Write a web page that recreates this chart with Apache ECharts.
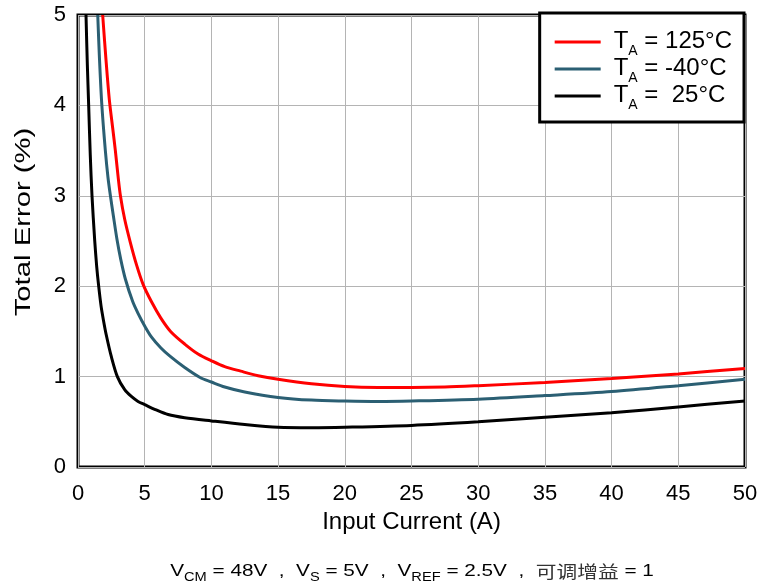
<!DOCTYPE html>
<html>
<head>
<meta charset="utf-8">
<script src="https://cdn.jsdelivr.net/npm/echarts@6/dist/echarts.min.js"></script>
<style>html,body{margin:0;padding:0;background:#fff;}#c{width:761px;height:586px;}</style>
</head>
<body>
<div id="c"></div>
<script>
var xTicks = [0, 5, 10, 15, 20, 25, 30, 35, 40, 45, 50];
var yTicks = [0, 1, 2, 3, 4, 5];

var redX   = [1.85, 2.1, 2.35, 2.6, 2.8, 3.0, 3.18, 3.5, 3.93, 4.4, 4.88, 5.5, 6.2, 6.94, 8, 9, 10, 11, 12.2, 13.5, 15, 17.5, 20, 22.5, 25, 27.5, 30, 35, 40, 45, 50];
var redY   = [5.0, 4.5, 4.06, 3.75, 3.5, 3.22, 3.0, 2.74, 2.48, 2.23, 2.02, 1.83, 1.65, 1.50, 1.36, 1.25, 1.175, 1.11, 1.06, 1.01, 0.97, 0.92, 0.89, 0.88, 0.88, 0.885, 0.90, 0.935, 0.98, 1.03, 1.09];

var blueX  = [1.48, 1.6, 1.78, 2.05, 2.25, 2.43, 2.65, 2.93, 3.2, 3.55, 4.1, 4.5, 5.0, 5.5, 6.2, 6.94, 8, 9.15, 10, 11, 12.5, 15, 17.5, 20, 22.5, 25, 30, 35, 40, 45, 50];
var blueY  = [5.0, 4.55, 4.02, 3.5, 3.2, 3.0, 2.78, 2.51, 2.3, 2.08, 1.83, 1.7, 1.56, 1.44, 1.32, 1.22, 1.1, 0.99, 0.94, 0.885, 0.83, 0.77, 0.74, 0.73, 0.725, 0.73, 0.75, 0.79, 0.835, 0.90, 0.97];

var blackX = [0.6, 0.7, 0.8, 0.92, 1.05, 1.25, 1.4, 1.55, 1.73, 1.9, 2.12, 2.5, 2.95, 3.5, 4.0, 4.5, 5, 5.8, 6.75, 8, 10, 12.5, 15, 17.5, 20, 25, 30, 35, 40, 45, 50];
var blackY = [5.0, 4.45, 4.0, 3.45, 3.0, 2.51, 2.22, 2.0, 1.78, 1.63, 1.46, 1.22, 1.0, 0.855, 0.78, 0.725, 0.69, 0.635, 0.58, 0.545, 0.51, 0.47, 0.44, 0.435, 0.44, 0.46, 0.50, 0.55, 0.60, 0.665, 0.73];

function pairs(xs, ys) { return xs.map(function (x, i) { return [x, ys[i]]; }); }

var legendLabels = {
  'r': '{g|}{n|T}{s|A}{n| = 125°C}',
  'b': '{g|}{n|T}{s|A}{n| = -40°C}',
  'k': '{g|}{n|T}{s|A}{n| =  25°C}'
};

var font = 'Liberation Sans, Arial, sans-serif';
var chart = echarts.init(document.getElementById('c'), null, {renderer: 'canvas'});
chart.setOption({
  animation: false,
  backgroundColor: '#fff',
  textStyle: {fontFamily: font},
  grid: {left: 78, right: 16, top: 15, bottom: 119, show: true, borderColor: '#000', borderWidth: 3},
  legend: {
    orient: 'vertical', right: 17, top: 13,
    backgroundColor: '#fff', borderColor: '#000', borderWidth: 3,
    padding: [16, 12, 10, 15],
    itemGap: -2, itemWidth: 46, itemHeight: 3, icon: 'rect',
    data: ['r', 'b', 'k'],
    formatter: function (n) { return legendLabels[n]; },
    textStyle: {
      rich: {
        g: {width: 8},
        n: {fontSize: 24, fontFamily: font, color: '#000', lineHeight: 22, verticalAlign: 'bottom'},
        s: {fontSize: 14, fontFamily: font, color: '#000', lineHeight: 22, verticalAlign: 'bottom', padding: [0, 0, -5, 0]}
      }
    }
  },
  graphic: [
    {
      type: 'text', x: 24, y: 222, rotation: Math.PI / 2, scaleX: 1.33,
      style: {text: 'Total Error (%)', font: '22px Liberation Sans, Arial, sans-serif', fill: '#000',
              align: 'center', verticalAlign: 'middle'}
    },
    {
      type: 'text', x: 412, y: 569, scaleX: 1.22,
      style: {
        text: '{n|V}{s|CM}{n| = 48V  ,  V}{s|S}{n| = 5V  ,  V}{s|REF}{n| = 2.5V  ,  }{c|可调增益}{n| = 1}',
        align: 'center', verticalAlign: 'middle', fill: '#000',
        rich: {
          n: {fontSize: 17, fontFamily: font, fontWeight: 'normal', fill: '#000', lineHeight: 22, verticalAlign: 'bottom'},
          s: {fontSize: 12, fontFamily: font, fontWeight: 'normal', fill: '#000', lineHeight: 22, verticalAlign: 'bottom', padding: [0, 0, -4, 0]},
          c: {fontSize: 17, fontFamily: 'Noto Sans CJK SC', fontWeight: 'normal', fill: '#333', lineHeight: 22, verticalAlign: 'bottom'}
        }
      }
    }
  ],
  xAxis: {
    type: 'value', min: 0, max: 50, interval: 5,
    name: 'Input Current (A)', nameLocation: 'middle', nameGap: 41,
    nameTextStyle: {fontSize: 24, color: '#000', fontFamily: font},
    axisLine: {show: false}, axisTick: {show: false},
    axisLabel: {fontSize: 22, color: '#000', margin: 16, fontFamily: font,
      formatter: function (v) { return xTicks.indexOf(v) >= 0 ? String(v) : ''; }},
    splitLine: {show: true, lineStyle: {color: '#b4b4b4', width: 1}}
  },
  yAxis: {
    type: 'value', min: 0, max: 5, interval: 1,
    axisLine: {show: false}, axisTick: {show: false},
    axisLabel: {fontSize: 22, color: '#000', margin: 12, fontFamily: font,
      formatter: function (v) { return yTicks.indexOf(v) >= 0 ? String(v) : ''; }},
    splitLine: {show: true, lineStyle: {color: '#b4b4b4', width: 1}}
  },
  series: [
    {name: 'r', type: 'line', data: pairs(redX, redY), smooth: 0.3, showSymbol: false, symbol: 'none',
     lineStyle: {color: '#ff0000', width: 3}, itemStyle: {color: '#ff0000'}, z: 4},
    {name: 'b', type: 'line', data: pairs(blueX, blueY), smooth: 0.3, showSymbol: false, symbol: 'none',
     lineStyle: {color: '#2b5f73', width: 3}, itemStyle: {color: '#2b5f73'}, z: 3},
    {name: 'k', type: 'line', data: pairs(blackX, blackY), smooth: 0.3, showSymbol: false, symbol: 'none',
     lineStyle: {color: '#000', width: 3}, itemStyle: {color: '#000'}, z: 2}
  ]
});
</script>
</body>
</html>
